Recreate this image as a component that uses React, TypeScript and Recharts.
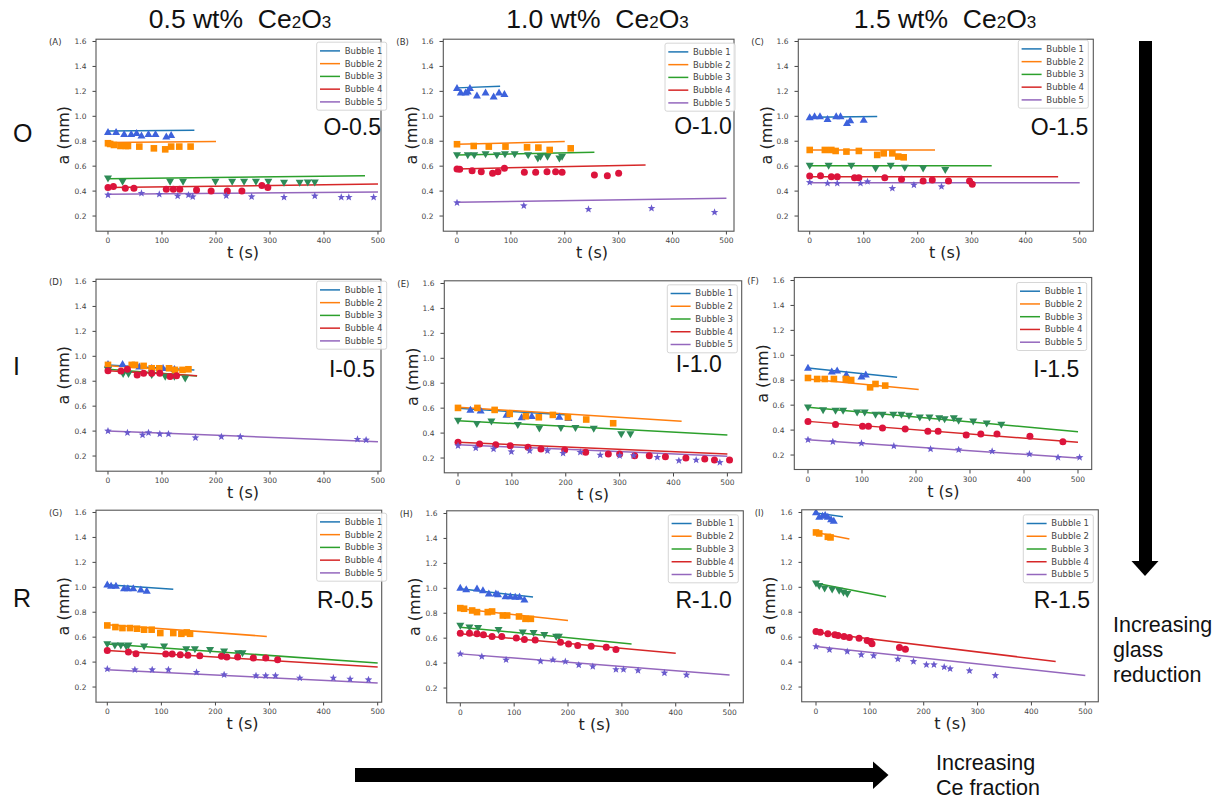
import { ComposedChart, Scatter, Line, XAxis, YAxis } from "recharts";

type Pt = [number, number];
type Fit = [number, number, number, number];

const BUBBLES = ["Bubble 1", "Bubble 2", "Bubble 3", "Bubble 4", "Bubble 5"];
const LINE_COLORS = ["#1f77b4", "#ff7f0e", "#2ca02c", "#d62728", "#9467bd"];
const MARK_COLORS = ["#3d62dc", "#ff8c00", "#2e8b57", "#dc143c", "#6a5acd"];
const X_TICKS = [0, 100, 200, 300, 400, 500];
const Y_TICKS = [0.2, 0.4, 0.6, 0.8, 1.0, 1.2, 1.4, 1.6];
const COL_TITLES = ["0.5", "1.0", "1.5"];
const ROW_LABELS = ["O", "I", "R"];
const PANEL_IDS = ["A", "B", "C", "D", "E", "F", "G", "H", "I"];
const PANEL_TAGS = ["O-0.5", "O-1.0", "O-1.5", "I-0.5", "I-1.0", "I-1.5", "R-0.5", "R-1.0", "R-1.5"];

// (A) O-0.5
const A1: Pt[] = [[0, 0.872], [15, 0.872], [30, 0.856], [43, 0.856], [53, 0.864], [62, 0.845], [75, 0.856], [88, 0.856], [108, 0.837], [117, 0.848]];
const A2: Pt[] = [[0, 0.784], [4, 0.778], [11, 0.77], [23, 0.762], [33, 0.762], [37, 0.762], [58, 0.757], [85, 0.743], [106, 0.735], [117, 0.757], [132, 0.757], [153, 0.757]];
const A3: Pt[] = [[0, 0.503], [27, 0.476], [115, 0.476], [139, 0.476], [199, 0.476], [230, 0.476], [252, 0.476], [274, 0.476], [297, 0.476], [326, 0.468], [355, 0.468], [370, 0.47], [383, 0.47]];
const A4: Pt[] = [[0, 0.428], [10, 0.436], [32, 0.422], [48, 0.422], [108, 0.414], [121, 0.414], [133, 0.414], [164, 0.409], [191, 0.401], [221, 0.401], [248, 0.401], [285, 0.444], [296, 0.428]];
const A5: Pt[] = [[0, 0.369], [62, 0.382], [95, 0.374], [129, 0.361], [149, 0.369], [157, 0.355], [219, 0.363], [266, 0.355], [326, 0.35], [383, 0.361], [432, 0.35], [446, 0.35], [492, 0.35]];
const fitA: Fit[] = [[0, 0.883, 160, 0.888], [0, 0.789, 200, 0.797], [0, 0.5, 476, 0.524], [0, 0.428, 500, 0.457], [0, 0.374, 500, 0.393]];

// (B) O-1.0
const B1: Pt[] = [[0, 1.225], [7, 1.19], [16, 1.19], [20, 1.198], [24, 1.225], [37, 1.166], [53, 1.19], [68, 1.158], [78, 1.19], [88, 1.177]];
const B2: Pt[] = [[0, 0.776], [31, 0.762], [59, 0.757], [90, 0.757], [130, 0.751], [151, 0.749], [172, 0.73], [211, 0.743]];
const B3: Pt[] = [[0, 0.69], [20, 0.69], [32, 0.69], [53, 0.698], [74, 0.69], [89, 0.698], [107, 0.698], [132, 0.69], [150, 0.663], [155, 0.677], [168, 0.677], [190, 0.663], [195, 0.677]];
const B4: Pt[] = [[0, 0.578], [5, 0.575], [28, 0.564], [45, 0.556], [66, 0.543], [76, 0.556], [88, 0.583], [125, 0.551], [146, 0.551], [167, 0.556], [183, 0.556], [195, 0.551], [255, 0.529], [279, 0.524], [300, 0.543]];
const B5: Pt[] = [[0, 0.307], [124, 0.283], [244, 0.254], [361, 0.262], [478, 0.23]];
const fitB: Fit[] = [[0, 1.228, 80, 1.241], [0, 0.776, 200, 0.797], [0, 0.69, 255, 0.711], [0, 0.578, 350, 0.61], [0, 0.31, 500, 0.342]];

// (C) O-1.5
const C1: Pt[] = [[0, 0.99], [9, 0.998], [19, 0.998], [33, 0.976], [49, 0.998], [57, 0.998], [69, 0.944], [75, 0.966], [100, 0.971]];
const C2: Pt[] = [[0, 0.73], [28, 0.73], [40, 0.73], [48, 0.722], [68, 0.717], [91, 0.722], [125, 0.69], [137, 0.703], [153, 0.703], [164, 0.677], [174, 0.671]];
const C3: Pt[] = [[0, 0.604], [35, 0.604], [77, 0.604], [122, 0.583], [150, 0.604], [176, 0.588], [210, 0.583], [251, 0.57]];
const C4: Pt[] = [[0, 0.521], [20, 0.524], [40, 0.516], [51, 0.516], [83, 0.508], [91, 0.508], [139, 0.508], [170, 0.495], [210, 0.481], [227, 0.489], [257, 0.481], [296, 0.481], [301, 0.454]];
const C5: Pt[] = [[0, 0.47], [33, 0.462], [51, 0.462], [94, 0.462], [107, 0.476], [153, 0.422], [193, 0.449], [244, 0.436]];
const fitC: Fit[] = [[0, 0.992, 125, 0.998], [0, 0.73, 232, 0.73], [0, 0.604, 337, 0.604], [0, 0.516, 460, 0.516], [0, 0.468, 500, 0.468]];

// (D) I-0.5
const D1: Pt[] = [[0, 0.936], [27, 0.936], [58, 0.917], [81, 0.904], [102, 0.904], [123, 0.896]];
const D2: Pt[] = [[0, 0.931], [44, 0.931], [50, 0.931], [66, 0.923], [81, 0.904], [95, 0.904], [113, 0.904], [124, 0.891], [138, 0.891], [149, 0.896]];
const D3: Pt[] = [[0, 0.891], [28, 0.859], [38, 0.859], [81, 0.851], [106, 0.837], [123, 0.837], [143, 0.824]];
const D4: Pt[] = [[0, 0.885], [24, 0.883], [36, 0.896], [54, 0.851], [66, 0.864], [81, 0.864], [96, 0.864], [115, 0.837], [127, 0.843]];
const D5: Pt[] = [[0, 0.401], [36, 0.387], [64, 0.369], [75, 0.387], [96, 0.377], [112, 0.377], [162, 0.347], [210, 0.355], [245, 0.355], [462, 0.334], [478, 0.329]];
const fitD: Fit[] = [[0, 0.93, 160, 0.89], [0, 0.925, 150, 0.885], [0, 0.896, 165, 0.842], [0, 0.885, 165, 0.843], [0, 0.401, 500, 0.315]];

// (E) I-1.0
const E1: Pt[] = [[23, 0.585], [42, 0.58], [90, 0.545], [118, 0.525], [137, 0.535], [188, 0.53], [205, 0.52]];
const E2: Pt[] = [[0, 0.602], [36, 0.602], [68, 0.586], [96, 0.554], [126, 0.535], [150, 0.527], [176, 0.546], [204, 0.527], [238, 0.509], [288, 0.479]];
const E3: Pt[] = [[0, 0.5], [35, 0.474], [62, 0.495], [111, 0.466], [151, 0.439], [191, 0.442], [218, 0.442], [252, 0.436], [303, 0.393], [320, 0.393]];
const E4: Pt[] = [[0, 0.326], [40, 0.313], [70, 0.307], [97, 0.299], [130, 0.286], [154, 0.273], [198, 0.265], [237, 0.246], [279, 0.232], [300, 0.232], [328, 0.219], [355, 0.219], [385, 0.211], [423, 0.2], [458, 0.192], [476, 0.184], [504, 0.184]];
const E5: Pt[] = [[0, 0.299], [33, 0.281], [66, 0.273], [99, 0.251], [133, 0.259], [166, 0.259], [195, 0.238], [227, 0.246], [264, 0.224], [300, 0.219], [326, 0.219], [370, 0.206], [410, 0.179], [442, 0.184], [486, 0.165]];
const fitE: Fit[] = [[0, 0.6, 205, 0.545], [0, 0.608, 415, 0.495], [0, 0.5, 500, 0.385], [0, 0.326, 500, 0.232], [0, 0.307, 500, 0.214]];

// (F) I-1.5
const F1: Pt[] = [[0, 0.899], [44, 0.869], [54, 0.877], [71, 0.845], [99, 0.829], [107, 0.845]];
const F2: Pt[] = [[0, 0.818], [17, 0.81], [31, 0.81], [48, 0.81], [70, 0.81], [80, 0.802], [115, 0.743], [125, 0.77], [143, 0.757]];
const F3: Pt[] = [[0, 0.583], [28, 0.561], [51, 0.556], [65, 0.556], [91, 0.543], [105, 0.543], [125, 0.524], [138, 0.524], [158, 0.524], [173, 0.524], [187, 0.516], [207, 0.503], [225, 0.503], [243, 0.497], [253, 0.489], [270, 0.497], [279, 0.476], [306, 0.47], [331, 0.454], [358, 0.444]];
const F4: Pt[] = [[0, 0.47], [51, 0.444], [101, 0.43], [112, 0.43], [138, 0.417], [180, 0.409], [222, 0.39], [241, 0.39], [293, 0.361], [320, 0.369], [350, 0.369], [411, 0.35], [472, 0.307]];
const F5: Pt[] = [[0, 0.323], [46, 0.307], [99, 0.294], [159, 0.272], [227, 0.248], [279, 0.243], [341, 0.23], [410, 0.208], [463, 0.181], [503, 0.181]];
const fitF: Fit[] = [[0, 0.899, 165, 0.824], [0, 0.81, 205, 0.725], [0, 0.583, 500, 0.387], [0, 0.47, 500, 0.302], [0, 0.323, 500, 0.176]];

// (G) R-0.5
const G1: Pt[] = [[0, 1.02], [7, 1.01], [16, 1.01], [31, 0.99], [38, 0.99], [48, 0.99], [62, 0.98], [73, 0.97]];
const G2: Pt[] = [[0, 0.694], [15, 0.681], [28, 0.673], [42, 0.673], [55, 0.668], [68, 0.66], [82, 0.66], [98, 0.633], [122, 0.633], [137, 0.627], [147, 0.638], [153, 0.627]];
const G3: Pt[] = [[0, 0.545], [14, 0.534], [25, 0.534], [35, 0.526], [39, 0.534], [68, 0.526], [105, 0.526], [146, 0.505], [162, 0.505], [190, 0.499], [216, 0.486], [242, 0.473], [250, 0.473]];
const G4: Pt[] = [[0, 0.494], [39, 0.481], [53, 0.467], [108, 0.465], [120, 0.465], [135, 0.459], [149, 0.454], [171, 0.451], [211, 0.446], [221, 0.441], [241, 0.441], [270, 0.433], [293, 0.433], [315, 0.419]];
const G5: Pt[] = [[0, 0.344], [51, 0.339], [83, 0.339], [113, 0.339], [165, 0.318], [216, 0.299], [275, 0.291], [293, 0.291], [311, 0.291], [356, 0.272], [418, 0.272], [449, 0.264], [483, 0.259]];
const fitG: Fit[] = [[0, 1.02, 122, 0.985], [0, 0.7, 295, 0.606], [0, 0.545, 500, 0.392], [0, 0.494, 500, 0.36], [0, 0.339, 500, 0.232]];

// (H) R-1.0
const H1: Pt[] = [[0, 1.002], [11, 0.991], [31, 0.997], [42, 0.983], [53, 0.956], [66, 0.956], [70, 0.951], [84, 0.935], [93, 0.935], [102, 0.93], [110, 0.93], [119, 0.908]];
const H2: Pt[] = [[0, 0.841], [7, 0.836], [22, 0.822], [31, 0.809], [51, 0.809], [59, 0.814], [79, 0.782], [87, 0.782], [109, 0.774], [121, 0.755], [131, 0.755]];
const H3: Pt[] = [[0, 0.702], [17, 0.688], [33, 0.683], [71, 0.667], [116, 0.648], [136, 0.643], [156, 0.627], [178, 0.613], [183, 0.613]];
const H4: Pt[] = [[0, 0.64], [17, 0.64], [31, 0.635], [43, 0.627], [59, 0.613], [77, 0.613], [104, 0.602], [119, 0.589], [139, 0.586], [186, 0.567], [201, 0.554], [218, 0.541], [243, 0.535], [271, 0.527], [289, 0.509]];
const H5: Pt[] = [[0, 0.474], [40, 0.452], [85, 0.426], [149, 0.415], [172, 0.426], [195, 0.412], [220, 0.385], [246, 0.372], [289, 0.348], [303, 0.348], [330, 0.34], [379, 0.321], [420, 0.305]];
const fitH: Fit[] = [[0, 0.997, 135, 0.93], [0, 0.836, 200, 0.742], [0, 0.688, 318, 0.554], [0, 0.635, 400, 0.479], [0, 0.474, 500, 0.305]];

// (I) R-1.5
const I1: Pt[] = [[0, 1.6], [6, 1.565], [12, 1.573], [17, 1.579], [22, 1.565], [28, 1.544], [33, 1.533]];
const I2: Pt[] = [[0, 1.44], [6, 1.432], [22, 1.405], [27, 1.4]];
const I3: Pt[] = [[0, 1.032], [6, 1.013], [16, 0.992], [30, 0.984], [43, 0.973], [51, 0.96], [58, 0.947]];
const I4: Pt[] = [[0, 0.645], [8, 0.64], [22, 0.627], [35, 0.619], [41, 0.613], [52, 0.605], [62, 0.597], [80, 0.592], [95, 0.573], [101, 0.565], [104, 0.547], [155, 0.517], [166, 0.504]];
const I5: Pt[] = [[0, 0.525], [25, 0.499], [58, 0.485], [84, 0.459], [107, 0.451], [152, 0.424], [181, 0.405], [205, 0.379], [219, 0.379], [238, 0.36], [249, 0.347], [285, 0.331], [333, 0.293]];
const fitI: Fit[] = [[0, 1.597, 50, 1.565], [0, 1.44, 62, 1.387], [0, 1.032, 130, 0.925], [0, 0.64, 445, 0.405], [0, 0.525, 500, 0.293]];

const POINTS: Pt[][][] = [
  [A1, A2, A3, A4, A5], [B1, B2, B3, B4, B5], [C1, C2, C3, C4, C5],
  [D1, D2, D3, D4, D5], [E1, E2, E3, E4, E5], [F1, F2, F3, F4, F5],
  [G1, G2, G3, G4, G5], [H1, H2, H3, H4, H5], [I1, I2, I3, I4, I5],
];
const FITS: Fit[][] = [fitA, fitB, fitC, fitD, fitE, fitF, fitG, fitH, fitI];

// plot frame placement for each panel (pixels) and its x range
const LAYOUT = [
  { left: 96, top: 39.2, width: 285, xMin: -22.2, xMax: 505.6, tagDx: 0, tagDy: 87.5, legDx: 5.7, legDy: 3 },
  { left: 443.3, top: 39.2, width: 290.7, xMin: -26, xMax: 513.5, tagDx: -2.3, tagDy: 86.8, legDx: 1, legDy: 4 },
  { left: 798.3, top: 39.2, width: 295, xMin: -21.7, xMax: 524.6, tagDx: -5, tagDy: 87.5, legDx: -5, legDy: 1 },
  { left: 96, top: 279.2, width: 285, xMin: -22.2, xMax: 505.6, tagDx: -6, tagDy: 89, legDx: 5.7, legDy: 2 },
  { left: 444.3, top: 280.8, width: 297.4, xMin: -26, xMax: 526, tagDx: -20, tagDy: 83, legDx: -4.4, legDy: 4 },
  { left: 794.3, top: 277.5, width: 297.4, xMin: -25.9, xMax: 524.8, tagDx: -12.4, tagDy: 90.8, legDx: -5, legDy: 5 },
  { left: 96, top: 510.2, width: 285.7, xMin: -20.9, xMax: 507.4, tagDx: -8.4, tagDy: 89.8, legDx: 5, legDy: 3 },
  { left: 446.7, top: 510.8, width: 296.6, xMin: -24.7, xMax: 526, tagDx: -11.6, tagDy: 89.2, legDx: -5, legDy: 4 },
  { left: 801.7, top: 509.8, width: 296.6, xMin: -26, xMax: 524.7, tagDx: -8.3, tagDy: 90.2, legDx: -5, legDy: 5 },
];
const FRAME_H = 192;
const Y_DOMAIN: [number, number] = [0.08, 1.62];
const COL_X = [240, 597.5, 945];
const ROW_BASE = [142, 375, 607];

const SANS = "'Liberation Sans', Arial, sans-serif";
const MPL = "'DejaVu Sans', sans-serif";

const toRows = (pts: Pt[]) => pts.map(([t, a]) => ({ t, a }));

const Marker = ({ cx, cy, kind, color }: { cx: number; cy: number; kind: number; color: string }) => {
  if (cx == null || cy == null) return null;
  if (kind === 0)
    return <polygon points={`${cx},${cy - 4.2} ${cx - 4},${cy + 2.8} ${cx + 4},${cy + 2.8}`} fill={color} />;
  if (kind === 1) return <rect x={cx - 3.3} y={cy - 3.3} width={6.6} height={6.6} fill={color} />;
  if (kind === 2)
    return <polygon points={`${cx},${cy + 4.2} ${cx - 4},${cy - 2.8} ${cx + 4},${cy - 2.8}`} fill={color} />;
  if (kind === 3) return <circle cx={cx} cy={cy} r={3.5} fill={color} />;
  const pts: string[] = [];
  for (let k = 0; k < 10; k++) {
    const r = k % 2 === 0 ? 4 : 1.7;
    const ang = -Math.PI / 2 + (k * Math.PI) / 5;
    pts.push(`${cx + r * Math.cos(ang)},${cy + r * Math.sin(ang)}`);
  }
  return <polygon points={pts.join(" ")} fill={color} />;
};

const Panel = ({ idx }: { idx: number }) => {
  const lay = LAYOUT[idx];
  const tick = { fontSize: 7.5, fill: "#444", fontFamily: MPL };
  return (
    <div style={{ position: "absolute", left: lay.left - 45, top: lay.top - 10 }}>
      <ComposedChart width={lay.width + 50} height={FRAME_H + 32} margin={{ top: 10, right: 5, left: 0, bottom: 0 }}>
        <XAxis
          type="number"
          dataKey="t"
          domain={[lay.xMin, lay.xMax]}
          ticks={X_TICKS}
          interval={0}
          allowDataOverflow
          axisLine={false}
          tickSize={3.5}
          tickMargin={3}
          height={22}
          tick={tick}
          tickLine={{ stroke: "#444" }}
        />
        <YAxis
          type="number"
          dataKey="a"
          domain={Y_DOMAIN}
          ticks={Y_TICKS}
          interval={0}
          allowDataOverflow
          axisLine={false}
          tickSize={3.5}
          tickMargin={6}
          width={45}
          tick={tick}
          tickLine={{ stroke: "#444" }}
          tickFormatter={(v: number) => v.toFixed(1)}
        />
        {FITS[idx].map((f, i) => (
          <Line
            key={`l${i}`}
            data={[{ t: f[0], a: f[1] }, { t: f[2], a: f[3] }]}
            dataKey="a"
            stroke={LINE_COLORS[i]}
            strokeWidth={1.5}
            dot={false}
            activeDot={false}
            isAnimationActive={false}
          />
        ))}
        {POINTS[idx].map((pts, i) => (
          <Scatter
            key={`s${i}`}
            data={toRows(pts)}
            dataKey="a"
            isAnimationActive={false}
            shape={(p: any) => <Marker cx={p.cx} cy={p.cy} kind={i} color={MARK_COLORS[i]} />}
          />
        ))}
      </ComposedChart>
    </div>
  );
};

const Decorations = () => (
  <svg width={1221} height={802} style={{ position: "absolute", left: 0, top: 0, pointerEvents: "none" }}>
    {COL_TITLES.map((c, i) => (
      <text key={c} x={COL_X[i]} y={28} textAnchor="middle" fontFamily={SANS} fontSize={26.5} fill="#111" xmlSpace="preserve">
        {`${c} wt%\u00a0\u00a0Ce`}
        <tspan fontSize={17}>2</tspan>O<tspan fontSize={17}>3</tspan>
      </text>
    ))}
    {ROW_LABELS.map((r, i) => (
      <text key={r} x={13} y={ROW_BASE[i]} fontFamily={SANS} fontSize={25} fill="#111">
        {r}
      </text>
    ))}
    {LAYOUT.map((lay, i) => {
      const right = lay.left + lay.width;
      const legX = right + lay.legDx - 70;
      const legY = lay.top + lay.legDy;
      const x250 = lay.left + ((250 - lay.xMin) / (lay.xMax - lay.xMin)) * lay.width;
      return (
        <g key={PANEL_IDS[i]}>
          <rect x={lay.left} y={lay.top} width={lay.width} height={FRAME_H} fill="none" stroke="#555" strokeWidth={1.1} />
          <text x={lay.left - 47} y={lay.top + 6} fontFamily={MPL} fontSize={8.5} fill="#333">
            ({PANEL_IDS[i]})
          </text>
          <text
            x={lay.left - 32}
            y={lay.top + FRAME_H / 2}
            transform={`rotate(-90 ${lay.left - 32} ${lay.top + FRAME_H / 2})`}
            textAnchor="middle"
            dominantBaseline="central"
            fontFamily={MPL}
            fontSize={16}
            fill="#222"
          >
            a (mm)
          </text>
          <text x={x250} y={lay.top + FRAME_H + 27} textAnchor="middle" fontFamily={MPL} fontSize={16} fill="#222">
            t (s)
          </text>
          <text x={right + lay.tagDx} y={lay.top + lay.tagDy + 8.3} textAnchor="end" fontFamily={SANS} fontSize={23} fill="#111">
            {PANEL_TAGS[i]}
          </text>
          <g transform={`translate(${legX},${legY})`}>
            <rect width={70} height={68} rx={2} fill="#fff" fillOpacity={0.85} stroke="#ccc" strokeWidth={0.8} />
            {BUBBLES.map((b, k) => (
              <g key={b}>
                <line x1={3.3} x2={23.3} y1={8.7 + k * 12.75} y2={8.7 + k * 12.75} stroke={LINE_COLORS[k]} strokeWidth={1.5} />
                <text x={28} y={8.7 + k * 12.75} dominantBaseline="central" fontFamily={MPL} fontSize={8.5} fill="#444">
                  {b}
                </text>
              </g>
            ))}
          </g>
        </g>
      );
    })}
    {/* vertical arrow */}
    <rect x={1139} y={41} width={13} height={521} fill="#000" />
    <polygon points="1131.5,561 1158.5,561 1145,576" fill="#000" />
    <text fontFamily={SANS} fontSize={21.5} fill="#111">
      <tspan x={1113} y={631.7}>Increasing</tspan>
      <tspan x={1113} y={656.7}>glass</tspan>
      <tspan x={1113} y={681.7}>reduction</tspan>
    </text>
    {/* horizontal arrow */}
    <rect x={355} y={768} width={519} height={14} fill="#000" />
    <polygon points="873,761.5 873,789 888.5,775" fill="#000" />
    <text fontFamily={SANS} fontSize={21.5} fill="#111">
      <tspan x={936} y={770}>Increasing</tspan>
      <tspan x={936} y={795}>Ce fraction</tspan>
    </text>
  </svg>
);

const App = () => (
  <div style={{ position: "absolute", left: 0, top: 0, width: 1221, height: 802, background: "#fff" }}>
    {LAYOUT.map((_, i) => (
      <Panel key={i} idx={i} />
    ))}
    <Decorations />
  </div>
);

export default App;
